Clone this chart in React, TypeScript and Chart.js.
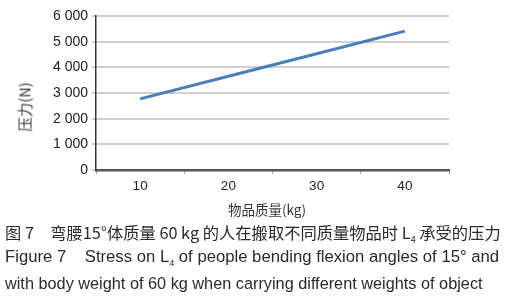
import React, { useEffect, useRef } from "react";
import { Chart, registerables } from "chart.js";

Chart.register(...registerables);

const categories = ["10", "20", "30", "40"];
const stressValues = [2770, 3650, 4530, 5410];
const yTicks = [0, 1000, 2000, 3000, 4000, 5000, 6000];
const yTitle = "压力(N)";
const xTitle = "物品质量(kg)";

const fmt = (v: number) => {
  const s = String(v);
  return s.length > 3 ? s.slice(0, s.length - 3) + " " + s.slice(-3) : s;
};

export default function App() {
  const ref = useRef<HTMLCanvasElement | null>(null);

  useEffect(() => {
    document.body.style.margin = "0";
    const ctx = ref.current!.getContext("2d")!;
    const chart = new Chart(ctx, {
      type: "line",
      data: {
        labels: categories,
        datasets: [
          {
            data: stressValues,
            borderColor: "#4a7ebb",
            borderWidth: 3,
            pointRadius: 0,
            tension: 0,
          },
        ],
      },
      options: {
        animation: false,
        responsive: false,
        maintainAspectRatio: false,
        layout: { padding: { left: 0, top: 16, right: 61, bottom: 0 } },
        plugins: { legend: { display: false }, tooltip: { enabled: false } },
        scales: {
          x: {
            type: "category",
            offset: true,
            grid: {
              offset: true,
              drawOnChartArea: false,
              drawTicks: true,
              tickLength: 4,
              color: "#9a9a9a",
              lineWidth: 1,
            },
            border: { display: true, color: "#555555", width: 2.5 },
            ticks: {
              color: "#222222",
              font: { family: "Liberation Sans", size: 13.5 },
              padding: 4,
            },
            afterFit: (s: any) => {
              s.height = 30;
            },
          },
          y: {
            min: 0,
            max: 6000,
            afterBuildTicks: (s: any) => {
              s.ticks = yTicks.map((v) => ({ value: v }));
            },
            grid: {
              color: "#cfcfcf",
              lineWidth: 2,
              drawTicks: true,
              tickLength: 4,
            },
            border: { display: true, color: "#333333", width: 1.5 },
            ticks: {
              color: "#222222",
              font: { family: "Liberation Sans", size: 14 },
              padding: 4,
              callback: (v: any) => fmt(Number(v)),
            },
            afterFit: (s: any) => {
              s.width = 96;
            },
          },
        },
      },
    });
    return () => chart.destroy();
  }, []);

  const cap: React.CSSProperties = {
    position: "absolute",
    left: 5,
    whiteSpace: "nowrap",
    color: "#2a2a2a",
    fontFamily: "'Liberation Sans', 'Noto Sans CJK SC', sans-serif",
    fontSize: 16.7,
    lineHeight: "20px",
  };

  return (
    <div style={{ position: "relative", width: 510, height: 300, background: "#fff", overflow: "hidden" }}>
      <canvas ref={ref} width={510} height={200} style={{ position: "absolute", left: 0, top: 0, width: 510, height: 200 }} />
      <div
        style={{
          position: "absolute",
          left: 24,
          top: 107,
          transform: "translate(-50%, -50%) rotate(-90deg)",
          whiteSpace: "nowrap",
          fontFamily: "'Noto Sans CJK SC', sans-serif",
          fontSize: 14.5,
          color: "#333",
        }}
      >
        {yTitle}
      </div>
      <div
        style={{
          position: "absolute",
          left: 267,
          top: 209,
          transform: "translate(-50%, -50%)",
          whiteSpace: "nowrap",
          fontFamily: "'Noto Sans CJK SC', sans-serif",
          fontSize: 13.5,
          color: "#333",
        }}
      >
        {xTitle}
      </div>
      <div style={{ ...cap, top: 222, fontFamily: "'Noto Sans CJK SC', sans-serif", fontSize: 16.3 }}>
        图 7　弯腰15°体质量 60 kg 的人在搬取不同质量物品时 L<sub style={{ fontSize: 9 }}>4</sub> 承受的压力
      </div>
      <div style={{ ...cap, top: 247 }}>
        Figure 7&nbsp;&nbsp;&nbsp; Stress on L<sub style={{ fontSize: 9 }}>4</sub> of people bending flexion angles of 15° and
      </div>
      <div style={{ ...cap, top: 273, fontSize: 16.3 }}>
        with body weight of 60 kg when carrying different weights of object
      </div>
    </div>
  );
}
